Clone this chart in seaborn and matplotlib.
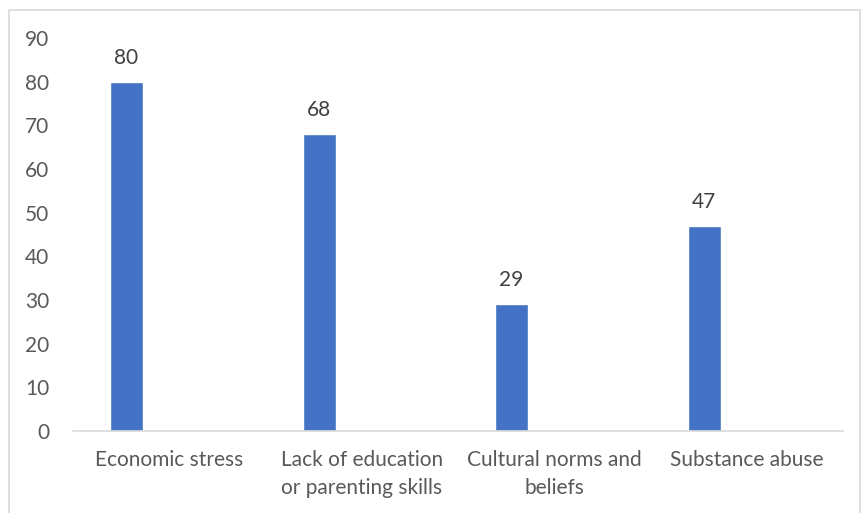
import pandas as pd
import numpy as np
import matplotlib.pyplot as plt
import matplotlib.patches as mpatches
import seaborn as sns

categories = ["Economic stress", "Lack of education\nor parenting skills",
              "Cultural norms and\nbeliefs", "Substance abuse"]
values = [80, 68, 29, 47]
series = ["Series1", "Series2"]

df = pd.DataFrame({
    "Category": categories * 2,
    "Value": values + [np.nan] * len(values),
    "Series": [series[0]] * len(values) + [series[1]] * len(values),
})

sns.set_style("white")
plt.rcParams["font.family"] = ["Lato", "DejaVu Sans"]

fig = plt.figure(figsize=(8.61, 5.13), dpi=100)
ax = fig.add_axes([0.0848, 0.160, 0.8944, 0.766])

sns.barplot(
    data=df, x="Category", y="Value", hue="Series",
    hue_order=series, order=categories,
    palette=["#4472c4", "#ed7d31"], width=0.888, gap=0.615,
    legend=False, ax=ax, saturation=1,
)

for c in ax.containers:
    ax.bar_label(c, fmt="%.0f", padding=10, fontsize=15, color="#404040")

ax.set_ylim(0, 90)
ax.set_yticks(range(0, 91, 10))
ax.set_xlim(-0.5, 3.5)
ax.set_xlabel("")
ax.set_ylabel("")
ax.tick_params(axis="y", labelsize=15, labelcolor="#595959", length=0, pad=17)
ax.tick_params(axis="x", labelsize=15, labelcolor="#595959", length=0, pad=14)
for lbl in ax.get_xticklabels():
    lbl.set_linespacing(1.45)

for s in ["left", "right", "top"]:
    ax.spines[s].set_visible(False)
ax.spines["bottom"].set_color("#d9d9d9")
ax.spines["bottom"].set_linewidth(1.2)

fig.patches.append(mpatches.Rectangle(
    (9 / 861, -0.01), 851 / 861, 1 - 10 / 513 + 0.01, transform=fig.transFigure,
    fill=False, edgecolor="#d9d9d9", linewidth=1.2))

plt.savefig("out.png", dpi=100)
plt.close()
